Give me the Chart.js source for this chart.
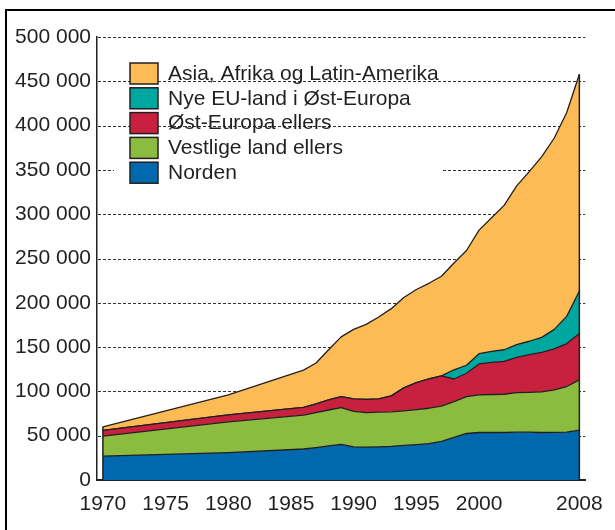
<!DOCTYPE html>
<html>
<head>
<meta charset="utf-8">
<script src="https://cdn.jsdelivr.net/npm/chart.js@4"></script>
<style>
  html, body { margin: 0; padding: 0; background: #fff; }
  #wrap { width: 615px; height: 530px; position: relative; }
</style>
</head>
<body>
<div id="wrap"><canvas id="c" width="615" height="530"></canvas></div>
<script>
// ---- Data ----
const years = [1970, 1980, 1986, 1987, 1988, 1989, 1990, 1991, 1992, 1993, 1994, 1995, 1996, 1997, 1998, 1999, 2000, 2001, 2002, 2003, 2004, 2005, 2006, 2007, 2008];
const norden    = [27000, 31000, 35000, 36600, 38500, 40300, 37500, 37200, 37500, 38000, 39000, 40000, 41000, 43500, 48000, 52500, 53600, 53600, 53600, 54000, 54000, 53600, 53800, 54000, 56200];
const vestlige  = [22500, 34700, 38300, 39400, 40500, 41300, 40000, 38800, 39000, 39000, 39000, 39500, 40000, 40000, 40500, 41500, 42400, 42900, 43200, 44600, 45000, 45800, 47900, 51500, 56800];
const ostEuropa = [6500, 7800, 8700, 9800, 11300, 12400, 14000, 15000, 15000, 18000, 26000, 30500, 33000, 34000, 25500, 26500, 35000, 36200, 37200, 39800, 42500, 44600, 46300, 48500, 52300];
const nyeEU     = [0, 0, 0, 0, 0, 0, 0, 0, 0, 0, 0, 0, 0, 0, 10400, 9000, 11600, 12500, 13000, 14400, 15100, 17000, 22000, 31000, 48100];
const asia      = [4000, 22500, 42000, 46200, 56700, 67500, 78500, 84600, 92500, 98400, 102000, 105000, 108000, 112500, 120600, 129500, 139400, 150800, 163000, 179200, 191400, 204000, 216000, 230000, 244600];

const seriesNames = ["Norden", "Vestlige land ellers", "Øst-Europa ellers", "Nye EU-land i Øst-Europa", "Asia, Afrika og Latin-Amerika"];
const seriesValues = [norden, vestlige, ostEuropa, nyeEU, asia];
const seriesColors = ["#0068ad", "#8cbc3f", "#c8203f", "#00a6a0", "#fcbb54"];
const xTickValues = [1970, 1975, 1980, 1985, 1990, 1995, 2000, 2008];

const INK = "#231f20";
const FONT = "'Liberation Sans', Arial, Helvetica, sans-serif";
const FSIZE = 21;

const datasets = seriesValues.map((vals, i) => ({
  label: seriesNames[i],
  data: years.map((yr, j) => ({ x: yr, y: vals[j] })),
  backgroundColor: seriesColors[i],
  borderColor: INK,
  borderWidth: 1.3,
  pointRadius: 0,
  tension: 0,
  fill: i === 0 ? 'origin' : '-1'
}));

const totals = years.map((_, j) => seriesValues.reduce((s, arr) => s + arr[j], 0));

const framePlugin = {
  id: 'frame',
  beforeDraw(chart) {
    const ctx = chart.ctx;
    ctx.save();
    ctx.fillStyle = '#fff';
    ctx.fillRect(0, 0, chart.width, chart.height);
    ctx.strokeStyle = '#000';
    ctx.lineWidth = 2;
    ctx.beginPath();
    ctx.moveTo(6, chart.height);
    ctx.lineTo(6, 10);
    ctx.lineTo(chart.width, 10);
    ctx.stroke();
    ctx.restore();
  },
  beforeDatasetsDraw(chart) {
    const ctx = chart.ctx;
    const ys = chart.scales.y;
    const { left, right } = chart.chartArea;
    ctx.save();
    // dashed horizontal gridlines at every y tick except 0
    ctx.strokeStyle = '#333';
    ctx.lineWidth = 1;
    ctx.setLineDash([3, 2]);
    ys.ticks.forEach(t => {
      if (t.value === 0) return;
      const py = Math.round(ys.getPixelForValue(t.value)) + 0.5;
      ctx.beginPath();
      ctx.moveTo(left + 1, py);
      ctx.lineTo(right, py);
      ctx.stroke();
    });
    ctx.setLineDash([]);
    // white patch that interrupts the 350 000 gridline in the reference
    const y = ys.getPixelForValue(350000);
    ctx.fillStyle = '#fff';
    ctx.fillRect(114, y - 6, 328, 12);
    ctx.restore();
  },
  afterDatasetsDraw(chart) {
    const ctx = chart.ctx;
    const xs = chart.scales.x, ys = chart.scales.y;
    ctx.save();
    ctx.strokeStyle = INK;
    ctx.lineWidth = 1.5;
    [0, years.length - 1].forEach(j => {
      const px = xs.getPixelForValue(years[j]);
      ctx.beginPath();
      ctx.moveTo(px, ys.getPixelForValue(0));
      ctx.lineTo(px, ys.getPixelForValue(totals[j]));
      ctx.stroke();
    });
    ctx.restore();
  },
  afterDraw(chart) {
    const ctx = chart.ctx;
    ctx.save();
    ctx.font = FSIZE + "px " + FONT;
    ctx.textBaseline = 'middle';
    ctx.textAlign = 'left';
    const order = [4, 3, 2, 1, 0];
    order.forEach((si, r) => {
      const top = 63 + r * 24.8;
      ctx.fillStyle = seriesColors[si];
      ctx.fillRect(130, top, 28, 21);
      ctx.strokeStyle = INK;
      ctx.lineWidth = 1.5;
      ctx.strokeRect(130, top, 28, 21);
      ctx.fillStyle = INK;
      ctx.fillText(seriesNames[si], 168, top + 11);
    });
    ctx.restore();
  }
};

new Chart(document.getElementById('c'), {
  type: 'line',
  data: { datasets },
  plugins: [framePlugin],
  options: {
    responsive: false,
    devicePixelRatio: 1,
    animation: false,
    layout: { padding: { left: 0, top: 37, right: 23, bottom: 0 } },
    plugins: { legend: { display: false }, tooltip: { enabled: false } },
    elements: { line: { borderJoinStyle: 'round' } },
    scales: {
      x: {
        type: 'linear',
        min: 1969.53,
        max: 2008.47,
        afterBuildTicks(scale) { scale.ticks = xTickValues.map(v => ({ value: v })); },
        afterFit(scale) { scale.height = 50; },
        grid: { display: false, drawTicks: false },
        border: { display: true, color: INK, width: 2 },
        ticks: {
          autoSkip: false,
          maxRotation: 0,
          padding: 12,
          color: INK,
          font: { family: FONT, size: FSIZE },
          callback: v => String(v)
        }
      },
      y: {
        stacked: true,
        min: 0,
        max: 500000,
        afterFit(scale) { scale.width = 97; },
        grid: { display: false, drawTicks: false },
        border: { display: true, color: INK, width: 1.5 },
        ticks: {
          stepSize: 50000,
          padding: 6,
          color: INK,
          font: { family: FONT, size: FSIZE },
          callback: v => v === 0 ? '0' : String(v).replace(/\B(?=(\d{3})+(?!\d))/g, ' ')
        }
      }
    }
  }
});
</script>
</body>
</html>
